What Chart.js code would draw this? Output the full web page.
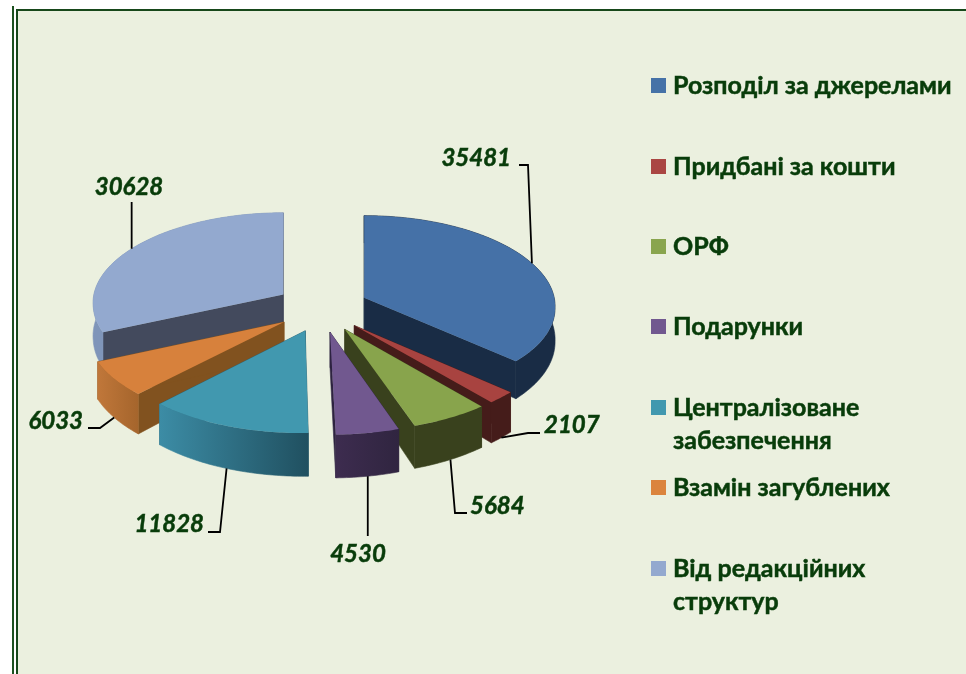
<!DOCTYPE html>
<html>
<head>
<meta charset="utf-8">
<script src="https://cdn.jsdelivr.net/npm/chart.js@4"></script>
<style>
  html, body { margin: 0; padding: 0; background: #fff; overflow: hidden; }
  #page { position: absolute; left: 18px; top: 11px; width: 948px; height: 663px; background: #ebf0df; }
  .line { position: absolute; background: #1d5220; }
  canvas { position: absolute; left: 0; top: 0; }
</style>
</head>
<body>
<div id="page"></div>
<div class="line" style="left:12px;top:6px;width:2px;height:668px"></div>
<div class="line" style="left:16px;top:9px;width:2px;height:665px;background:#17481a"></div>
<div class="line" style="left:16px;top:9px;width:950px;height:2px;background:#17481a"></div>
<canvas id="myChart" width="966" height="674"></canvas>
<script>
var categories = ["Розподіл за джерелами", "Придбані за кошти", "ОРФ", "Подарунки", "Централізоване забезпечення", "Взамін загублених", "Від редакційних структур"];
var values = [35481, 2107, 5684, 4530, 11828, 6033, 30628];

var topColors = ["#4571a7", "#a84340", "#88a44c", "#71588f", "#4198af", "#d7813c", "#93a9cf"];
var legendColors = ["#4572a7", "#aa4643", "#89a54e", "#71588f", "#4198af", "#db843d", "#93a9cf"];
var wallColors = ["#192c45", "#451c1a", "#39411d", "#2e2340", "#2a6172", "#81521f", "#434a5d"];
var rimLeft = ["#192c45", "#451c1a", "#39411d", "#3d2c4f", "#3c8ca5", "#c0773a", "#7f95b9"];
var rimRight = ["#192c45", "#451c1a", "#39411d", "#302540", "#205060", "#a5652c", "#7f95b9"];

// painter's order, back to front
var drawOrder = [6, 5, 4, 0, 1, 2, 3];

// view settings for the tilted pie
var tilt = 0.47, perspX = 0.095, perspY = 0.08, explodeX = 0.24, explodeY = 0.27, depth = 33.5;

// legend rows: swatch top, then text lines with baselines
var legendRows = [
  {top: 78, lines: [["Розподіл за джерелами", 94]]},
  {top: 159, lines: [["Придбані за кошти", 175]]},
  {top: 239, lines: [["ОРФ", 255]]},
  {top: 319, lines: [["Подарунки", 335]]},
  {top: 400, lines: [["Централізоване", 416], ["забезпечення", 449]]},
  {top: 480, lines: [["Взамін загублених", 496]]},
  {top: 561, lines: [["Від редакційних", 577], ["структур", 610]]}
];

// leader elbows and label spots, a null x keeps the line vertical
var leaders = [
  {elbow: [[528, 165], [519, 165]], label: [511, 158, "right"]},
  {elbow: [[528, 433], [540, 433]], label: [544, 425, "left"]},
  {elbow: [[455, 513], [467, 513]], label: [470, 506, "left"]},
  {elbow: [[null, 536]], label: [358, 554, "center"]},
  {elbow: [[220, 532], [208, 532]], label: [204, 524, "right"]},
  {elbow: [[100, 428], [88, 428]], label: [83, 421, "right"]},
  {elbow: [[null, 202]], label: [129, 187, "center"]}
];

var textColor = "#083c0a";

function project(el, ox, x, y, z) {
  var R = el.outerRadius;
  var sx = 1 / (1 - perspX * y);
  var sy = 1 / (1 - perspY * y);
  return [el.x + (ox * Math.max(1, sx) + (x - ox) * sx) * R, el.y + y * tilt * R * sy + z * depth * sx * sx];
}

function slicePoints(el) {
  var mid = (el.startAngle + el.endAngle) / 2;
  var ox = Math.cos(mid) * explodeX, oy = Math.sin(mid) * explodeY;
  var steps = Math.max(4, Math.ceil((el.endAngle - el.startAngle) * 60));
  var arc = [];
  for (var i = 0; i <= steps; i++) {
    var a = el.startAngle + (el.endAngle - el.startAngle) * i / steps;
    arc.push([ox + Math.cos(a), oy + Math.sin(a)]);
  }
  return {ox: ox, oy: oy, arc: arc, mid: mid};
}

function fillPoly(ctx, pts, fill, seam) {
  ctx.fillStyle = fill;
  ctx.beginPath();
  pts.forEach(function (p, i) { if (i) ctx.lineTo(p[0], p[1]); else ctx.moveTo(p[0], p[1]); });
  ctx.closePath();
  ctx.fill();
  if (seam) {
    ctx.strokeStyle = fill;
    ctx.lineWidth = 0.6;
    ctx.stroke();
  }
}

function drawSlice(ctx, el, i) {
  var g = slicePoints(el);
  var last = g.arc.length - 1;
  var apexTop = project(el, g.ox, g.ox, g.oy, 0), apexBot = project(el, g.ox, g.ox, g.oy, 1);

  // the two straight walls
  [g.arc[0], g.arc[last]].forEach(function (c) {
    fillPoly(ctx, [apexTop, project(el, g.ox, c[0], c[1], 0), project(el, g.ox, c[0], c[1], 1), apexBot], wallColors[i], true);
  });

  // outer rim
  var top = g.arc.map(function (c) { return project(el, g.ox, c[0], c[1], 0); });
  var bot = g.arc.map(function (c) { return project(el, g.ox, c[0], c[1], 1); });
  var xs = top.map(function (p) { return p[0]; });
  var grad = ctx.createLinearGradient(Math.min.apply(null, xs), 0, Math.max.apply(null, xs), 0);
  grad.addColorStop(0, rimLeft[i]);
  grad.addColorStop(1, rimRight[i]);
  fillPoly(ctx, top.concat(bot.slice().reverse()), grad, true);

  // top face
  fillPoly(ctx, [apexTop].concat(top), topColors[i], false);
}

function boldText(ctx, text, x, y) {
  ctx.fillStyle = textColor;
  ctx.strokeStyle = textColor;
  ctx.lineWidth = 0.5;
  ctx.strokeText(text, x, y);
  ctx.fillText(text, x, y);
}

var pie3d = {
  id: "pie3d",
  beforeDatasetsDraw: function (chart) {
    var ctx = chart.ctx;
    var arcs = chart.getDatasetMeta(0).data;
    ctx.save();
    drawOrder.forEach(function (i) { drawSlice(ctx, arcs[i], i); });
    ctx.restore();
    return false;
  },
  afterDraw: function (chart) {
    var ctx = chart.ctx;
    var arcs = chart.getDatasetMeta(0).data;
    ctx.save();
    // leaders and value labels
    arcs.forEach(function (el, i) {
      var g = slicePoints(el);
      var start = project(el, g.ox, g.ox + Math.cos(g.mid), g.oy + Math.sin(g.mid), Math.sin(g.mid) > 0 ? 1 : 0);
      ctx.strokeStyle = "#000";
      ctx.lineWidth = 1.8;
      ctx.beginPath();
      ctx.moveTo(start[0], start[1]);
      leaders[i].elbow.forEach(function (p) { ctx.lineTo(p[0] === null ? start[0] : p[0], p[1]); });
      ctx.stroke();
      ctx.font = "italic bold 24px Lato, 'Open Sans', sans-serif";
      ctx.textAlign = leaders[i].label[2];
      ctx.textBaseline = "middle";
      boldText(ctx, String(values[i]), leaders[i].label[0], leaders[i].label[1]);
    });
    // legend
    ctx.textAlign = "left";
    ctx.textBaseline = "alphabetic";
    ctx.font = "bold 25px Lato, 'Open Sans', sans-serif";
    legendRows.forEach(function (row, i) {
      ctx.fillStyle = legendColors[i];
      ctx.fillRect(651, row.top, 15, 15);
      row.lines.forEach(function (l) { boldText(ctx, l[0], 673, l[1]); });
    });
    ctx.restore();
  }
};

var myChart = new Chart("myChart", {
  type: "pie",
  data: {
    labels: categories,
    datasets: [{
      data: values,
      backgroundColor: topColors,
      borderWidth: 0
    }]
  },
  options: {
    responsive: false,
    animation: false,
    layout: {padding: {left: 130, right: 452, top: 115.5, bottom: 174.5}},
    plugins: {legend: {display: false}, tooltip: {enabled: false}}
  },
  plugins: [pie3d]
});
</script>
</body>
</html>
